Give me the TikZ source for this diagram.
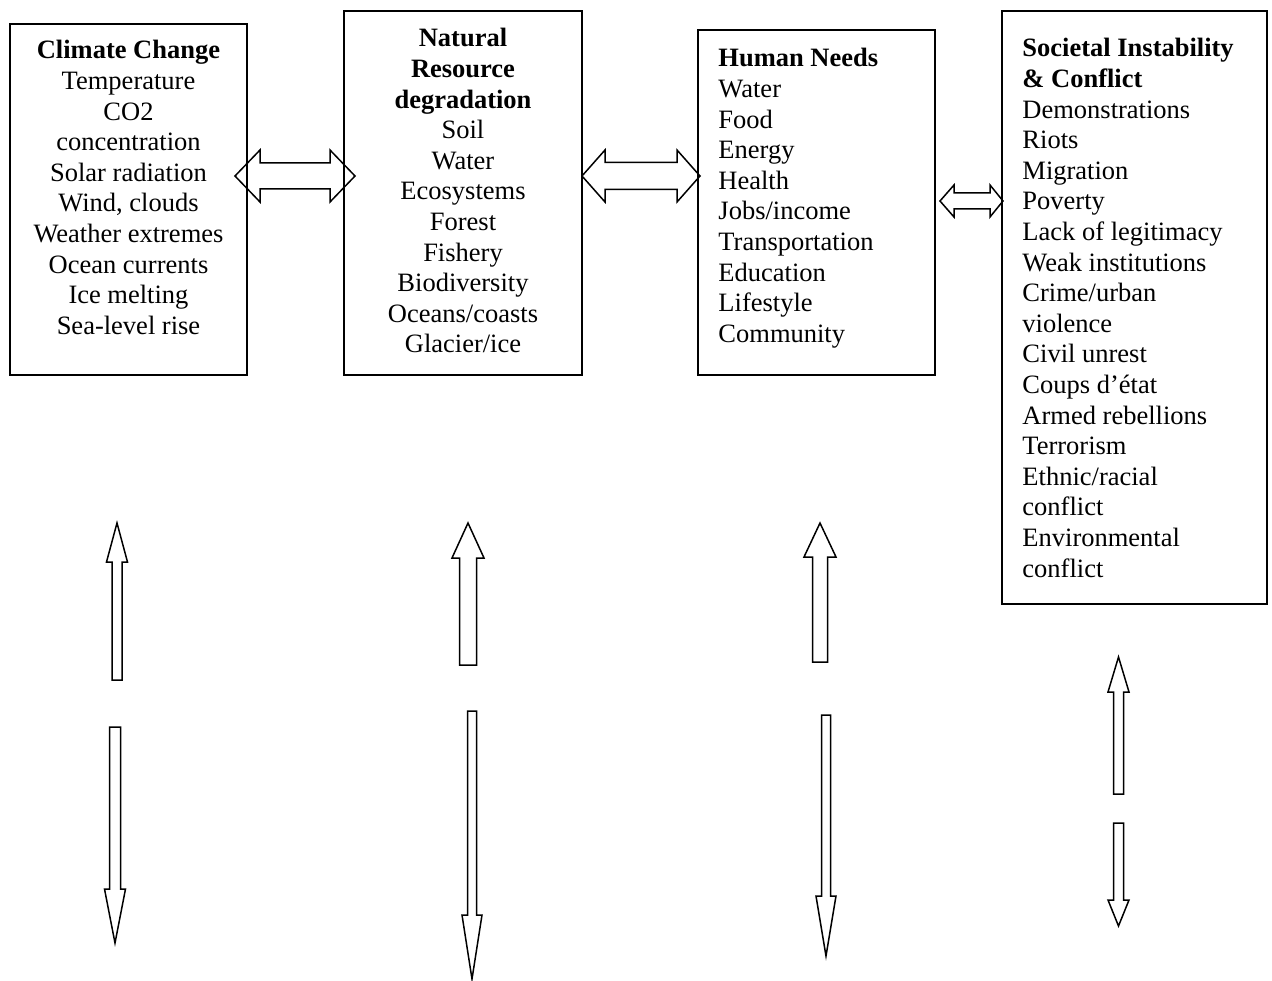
\documentclass[tikz,border=0pt]{standalone}
\usepackage{fontspec}
\setmainfont{Liberation Serif}
\usetikzlibrary{positioning}

% block arrow pointing up or down: x, tip, head base, tail, half shaft, half head
\newcommand{\vblock}[6]{%
  \draw[blk] ({#1-#5},#4) -- ({#1-#5},#3) -- ({#1-#6},#3) -- (#1,#2)
    -- ({#1+#6},#3) -- ({#1+#5},#3) -- ({#1+#5},#4) -- cycle;}
% double block arrow: y, left tip, left head base, right head base, right tip, half shaft, half head
\newcommand{\hblock}[7]{%
  \draw[blk] (#2,#1) -- (#3,{#1-#7}) -- (#3,{#1-#6}) -- (#4,{#1-#6}) -- (#4,{#1-#7})
    -- (#5,#1) -- (#4,{#1+#7}) -- (#4,{#1+#6}) -- (#3,{#1+#6}) -- (#3,{#1+#7}) -- cycle;}

\begin{document}
\begin{tikzpicture}[
  x=1pt, y=-1pt,
  box/.style={draw, line width=1.5pt},
  txt/.style={inner sep=0pt, font=\fontsize{26.5}{30.6}\selectfont},
  blk/.style={draw, line width=1.5pt, line join=miter}
]
  \useasboundingbox (0,0) rectangle (1272,981);

  \node[box, minimum width=237pt, minimum height=351pt] (cc) at (128.5,199.5) {};
  \node[box, minimum width=238pt, minimum height=364pt] (nr) at (463,193) {};
  \node[box, minimum width=237pt, minimum height=345pt] (hn) at (816.5,202.5) {};
  \node[box, minimum width=265pt, minimum height=593pt] (si) at (1134.5,307.5) {};

  \node[txt, align=center, below=17pt of cc.north] (cctxt)
    {\textbf{Climate Change}\\Temperature\\CO2\\concentration\\Solar radiation\\Wind, clouds\\Weather extremes\\Ocean currents\\Ice melting\\Sea-level rise};
  \node[txt, align=center, below=18pt of nr.north] (nrtxt)
    {\textbf{Natural}\\\textbf{Resource}\\\textbf{degradation}\\Soil\\Water\\Ecosystems\\Forest\\Fishery\\Biodiversity\\Oceans/coasts\\Glacier/ice};
  \node[txt, align=left, below right=19pt and 21pt of hn.north west] (hntxt)
    {\textbf{Human Needs}\\Water\\Food\\Energy\\Health\\Jobs/income\\Transportation\\Education\\Lifestyle\\Community};
  \node[txt, align=left, below right=28pt and 21pt of si.north west] (sitxt)
    {\textbf{Societal Instability}\\\textbf{\& Conflict}\\Demonstrations\\Riots\\Migration\\Poverty\\Lack of legitimacy\\Weak institutions\\Crime/urban\\violence\\Civil unrest\\Coups d’état\\Armed rebellions\\Terrorism\\Ethnic/racial\\conflict\\Environmental\\conflict};

  % links between the boxes
  \hblock{176}{235}{260}{330}{355}{13}{26}
  \hblock{176}{582}{605}{677}{700}{13.5}{26}
  \hblock{201}{940}{954}{990}{1003}{8}{16}

  % up and down arrows below the boxes
  \vblock{117}{523}{562}{680}{5}{10.5}
  \vblock{115}{943}{889}{727}{5.5}{10.5}
  \vblock{468}{523}{558}{665}{8.5}{16}
  \vblock{472}{979}{915}{711}{4.5}{10}
  \vblock{820}{523}{557}{662}{7.5}{16}
  \vblock{826}{956}{896}{715}{4.5}{10}
  \vblock{1118.5}{657}{692}{794}{5}{10.5}
  \vblock{1118.5}{926}{900}{823}{5}{10.5}
\end{tikzpicture}
\end{document}
